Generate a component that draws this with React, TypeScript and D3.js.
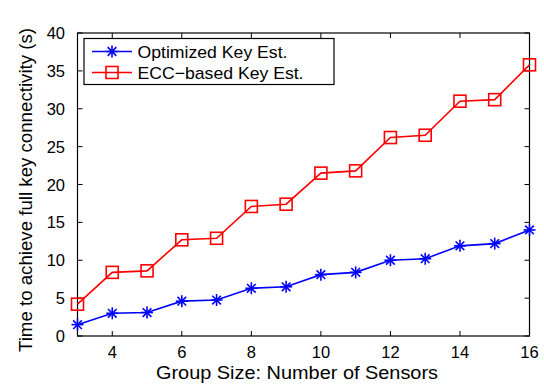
import React from "react";
import * as d3 from "d3";

const groupSizes = [3, 4, 5, 6, 7, 8, 9, 10, 11, 12, 13, 14, 15, 16];
const optimized = [1.5, 3.0, 3.1, 4.6, 4.75, 6.3, 6.5, 8.1, 8.4, 10.0, 10.2, 11.9, 12.2, 14.0];
const eccBased = [4.2, 8.4, 8.6, 12.7, 12.9, 17.1, 17.4, 21.5, 21.8, 26.2, 26.5, 31.0, 31.2, 35.8];
const xTicks = [4, 6, 8, 10, 12, 14, 16];
const yTicks = [0, 5, 10, 15, 20, 25, 30, 35, 40];
const seriesNames = ["Optimized Key Est.", "ECC\u2212based Key Est."];

const W = 544, H = 384;
const L = 77.5, R = 529.5, T = 33, B = 336;
const font = "'Liberation Sans', Arial, Helvetica, sans-serif";

function Star({ x, y, color }: { x: number; y: number; color: string }) {
  const r = 6;
  const d = r * 0.72;
  return (
    <g stroke={color} strokeWidth={1.6}>
      <line x1={x - r} y1={y} x2={x + r} y2={y} />
      <line x1={x} y1={y - r} x2={x} y2={y + r} />
      <line x1={x - d} y1={y - d} x2={x + d} y2={y + d} />
      <line x1={x - d} y1={y + d} x2={x + d} y2={y - d} />
    </g>
  );
}

function Square({ x, y, color }: { x: number; y: number; color: string }) {
  const s = 6;
  return <rect x={x - s} y={y - s} width={2 * s} height={2 * s} fill="none" stroke={color} strokeWidth={1.6} />;
}

export default function App() {
  const x = d3.scaleLinear().domain([3, 16]).range([L, R]);
  const y = d3.scaleLinear().domain([0, 40]).range([B, T]);
  const line = d3.line<number>().x((_, i) => x(groupSizes[i])).y((v) => y(v));
  const tl = 5;
  return (
    <svg width={W} height={H} style={{ position: "absolute", left: 0, top: 0 }} fontFamily={font}>
      <rect x={0} y={0} width={W} height={H} fill="white" />
      {xTicks.map((t) => (
        <g key={"x" + t}>
          <line x1={x(t)} x2={x(t)} y1={B} y2={B - tl} stroke="black" />
          <line x1={x(t)} x2={x(t)} y1={T} y2={T + tl} stroke="black" />
          <text x={x(t)} y={358} textAnchor="middle" fontSize={16.5}>{t}</text>
        </g>
      ))}
      {yTicks.map((t) => (
        <g key={"y" + t}>
          <line x1={L} x2={L + tl} y1={y(t)} y2={y(t)} stroke="black" />
          <line x1={R} x2={R - tl} y1={y(t)} y2={y(t)} stroke="black" />
          <text x={65} y={y(t) + 6} textAnchor="end" fontSize={16.5}>{t}</text>
        </g>
      ))}
      <rect x={L} y={T} width={R - L} height={B - T} fill="none" stroke="black" strokeWidth={1.2} />
      <path d={line(eccBased) || ""} fill="none" stroke="#ff0000" strokeWidth={1.6} />
      {eccBased.map((v, i) => <Square key={"s" + i} x={x(groupSizes[i])} y={y(v)} color="#ff0000" />)}
      <path d={line(optimized) || ""} fill="none" stroke="#0000ff" strokeWidth={1.6} />
      {optimized.map((v, i) => <Star key={"o" + i} x={x(groupSizes[i])} y={y(v)} color="#0000ff" />)}
      <rect x={84} y={38.5} width={250} height={46} fill="white" stroke="black" strokeWidth={1.2} />
      <line x1={92} x2={132} y1={51.5} y2={51.5} stroke="#0000ff" strokeWidth={1.6} />
      <Star x={112} y={51.5} color="#0000ff" />
      <text x={137.5} y={57.5} fontSize={17} textLength={150} lengthAdjust="spacingAndGlyphs">{seriesNames[0]}</text>
      <line x1={92} x2={132} y1={72.5} y2={72.5} stroke="#ff0000" strokeWidth={1.6} />
      <Square x={112} y={72.5} color="#ff0000" />
      <text x={137.5} y={78.5} fontSize={17} textLength={166} lengthAdjust="spacingAndGlyphs">{seriesNames[1]}</text>
      <text x={297} y={379} textAnchor="middle" fontSize={17.5} textLength={282} lengthAdjust="spacingAndGlyphs">Group Size: Number of Sensors</text>
      <text transform={`translate(32,190) rotate(-90)`} textAnchor="middle" fontSize={17.5} textLength={324} lengthAdjust="spacingAndGlyphs">Time to achieve full key connectivity (s)</text>
    </svg>
  );
}
